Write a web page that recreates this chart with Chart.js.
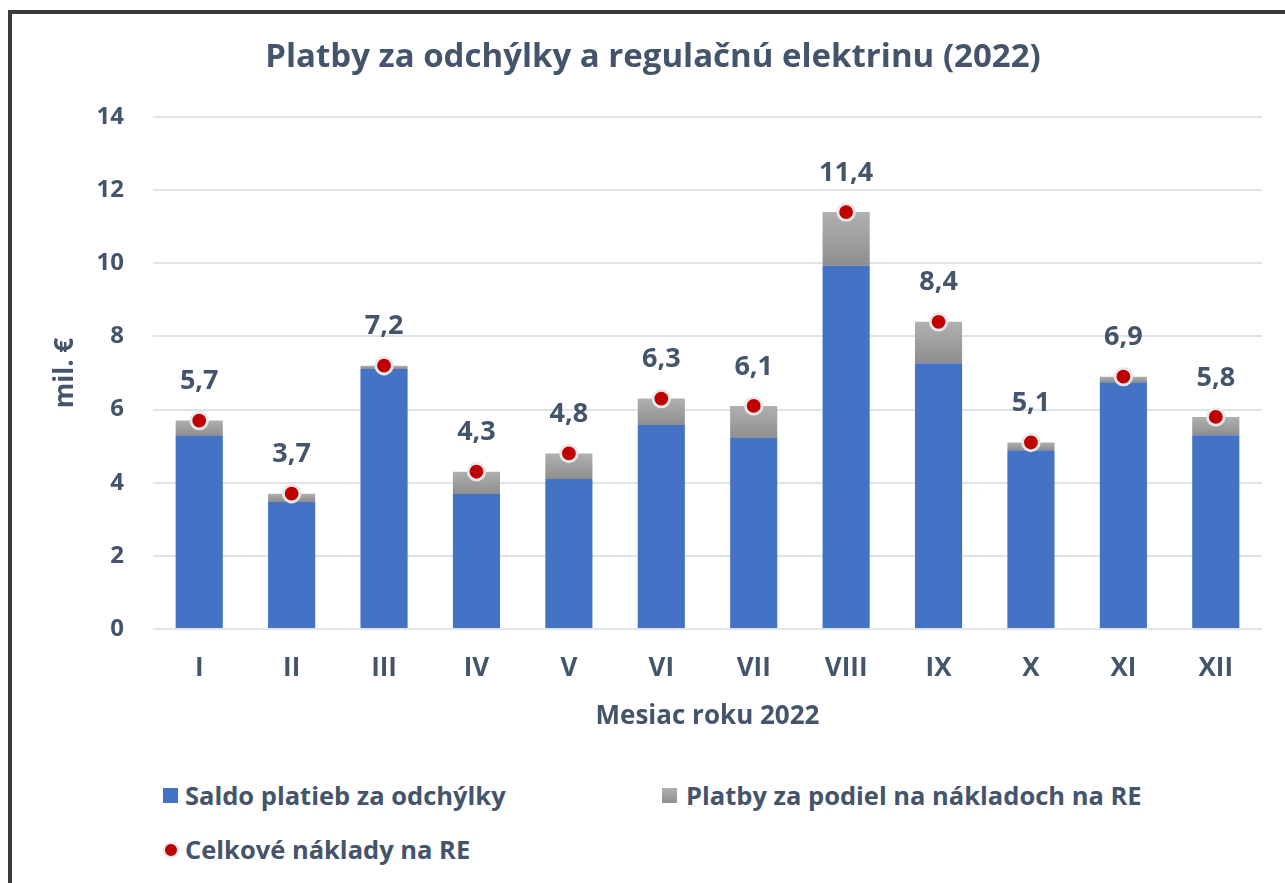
<!DOCTYPE html>
<html>
<head>
<meta charset="utf-8">
<script src="https://cdn.jsdelivr.net/npm/chart.js@4/dist/chart.umd.min.js"></script>
<style>
  body { margin: 0; background: #fff; font-family: "Open Sans", sans-serif; }
  #frame {
    position: absolute; left: 8px; top: 10px; width: 1300px; height: 900px;
    border-top: 4px solid #3a3a3a; border-left: 4px solid #3a3a3a;
  }
  #chart { position: absolute; left: 0; top: 0; }
  .lg { position: absolute; color: #44546A; font: 700 25.5px "Open Sans", sans-serif; line-height: 30px; white-space: nowrap; }
  .sw { position: absolute; width: 15px; height: 15px; }
</style>
</head>
<body>
<div id="frame"></div>
<canvas id="chart" width="1285" height="760"></canvas>

<div class="sw" style="left:163px; top:788px; background:#4472C4"></div>
<div class="lg" style="left:185px; top:780px">Saldo platieb za odchýlky</div>
<div class="sw" style="left:662px; top:788px; background:linear-gradient(#b0b0b0, #8e8e8e)"></div>
<div class="lg" style="left:686px; top:780px">Platby za podiel na nákladoch na RE</div>
<div class="sw" style="left:163px; top:842px; width:12px; height:12px; border-radius:50%; background:#c00000; border:2px solid #e6e6e6"></div>
<div class="lg" style="left:185px; top:834px">Celkové náklady na RE</div>

<script>
const TEXT = "#44546A";
const FONT = "Open Sans";

const months = ["I", "II", "III", "IV", "V", "VI", "VII", "VIII", "IX", "X", "XI", "XII"];
const saldo   = [5.28, 3.47, 7.11, 3.69, 4.10, 5.58, 5.22, 9.93, 7.27, 4.89, 6.75, 5.30];
const podiel  = [0.42, 0.23, 0.09, 0.61, 0.70, 0.72, 0.88, 1.47, 1.13, 0.21, 0.15, 0.50];
const celkove = [5.7, 3.7, 7.2, 4.3, 4.8, 6.3, 6.1, 11.4, 8.4, 5.1, 6.9, 5.8];
const yTicks  = [0, 2, 4, 6, 8, 10, 12, 14];

// gray segment shades from light at its top to darker at its base
function grayFill(c) {
  const y = c.chart.scales.y;
  if (c.type !== "data" || !y) return "#a0a0a0";
  const i = c.dataIndex;
  const top = y.getPixelForValue(saldo[i] + podiel[i]);
  const bot = y.getPixelForValue(saldo[i]);
  if (!isFinite(top) || !isFinite(bot) || top === bot) return "#a0a0a0";
  const g = c.chart.ctx.createLinearGradient(0, top, 0, bot);
  g.addColorStop(0, "#b0b0b0");
  g.addColorStop(1, "#8e8e8e");
  return g;
}

const valueLabels = {
  id: "valueLabels",
  afterDatasetsDraw(chart) {
    const meta = chart.getDatasetMeta(0);
    const ctx = chart.ctx;
    ctx.save();
    ctx.font = `700 27px "${FONT}", sans-serif`;
    ctx.fillStyle = TEXT;
    ctx.textAlign = "center";
    ctx.textBaseline = "middle";
    meta.data.forEach((p, i) => {
      ctx.fillText(celkove[i].toFixed(1).replace(".", ","), p.x, p.y - 39);
    });
    ctx.restore();
  },
};

new Chart(document.getElementById("chart"), {
  data: {
    labels: months,
    datasets: [
      {
        type: "line",
        label: "Celkové náklady na RE",
        data: celkove,
        stack: "dots",
        order: 0,
        showLine: false,
        pointRadius: 8.3,
        pointBorderWidth: 2.8,
        pointBackgroundColor: "#c00000",
        pointBorderColor: "#e8e8e8",
      },
      {
        type: "bar",
        label: "Saldo platieb za odchýlky",
        data: saldo,
        stack: "bars",
        order: 1,
        backgroundColor: "#4472C4",
        barPercentage: 0.51,
        categoryPercentage: 1,
      },
      {
        type: "bar",
        label: "Platby za podiel na nákladoch na RE",
        data: podiel,
        stack: "bars",
        order: 2,
        backgroundColor: grayFill,
        barPercentage: 0.51,
        categoryPercentage: 1,
      },
    ],
  },
  options: {
    responsive: false,
    animation: false,
    layout: { padding: { left: 44, right: 23, top: 0, bottom: 0 } },
    plugins: {
      legend: { display: false },
      tooltip: { enabled: false },
      title: {
        display: true,
        text: "Platby za odchýlky a regulačnú elektrinu (2022)",
        color: TEXT,
        font: { family: FONT, size: 33, weight: "700" },
        padding: { top: 38, bottom: 39.4 },
      },
    },
    scales: {
      x: {
        stacked: true,
        grid: { display: false, drawTicks: false },
        border: { display: false },
        ticks: { color: TEXT, font: { family: FONT, size: 26, weight: "700" }, padding: 24 },
        title: {
          display: true,
          text: "Mesiac roku 2022",
          color: TEXT,
          font: { family: FONT, size: 26, weight: "700" },
          padding: { top: 28, bottom: 28 },
        },
        afterFit: s => { s.height = 131; },
      },
      y: {
        stacked: true,
        min: 0,
        max: 14,
        afterBuildTicks: s => { s.ticks = yTicks.map(v => ({ value: v })); },
        grid: { color: "#dfe3ea", lineWidth: 2, drawTicks: false },
        border: { display: false },
        ticks: { color: TEXT, font: { family: FONT, size: 24, weight: "700" }, padding: 29 },
        title: {
          display: true,
          text: "mil. €",
          color: TEXT,
          font: { family: FONT, size: 26, weight: "700" },
          padding: { top: 6.4, bottom: 6.4 },
        },
        afterFit: s => { s.width = 109; },
      },
    },
  },
  plugins: [valueLabels],
});
</script>
</body>
</html>
